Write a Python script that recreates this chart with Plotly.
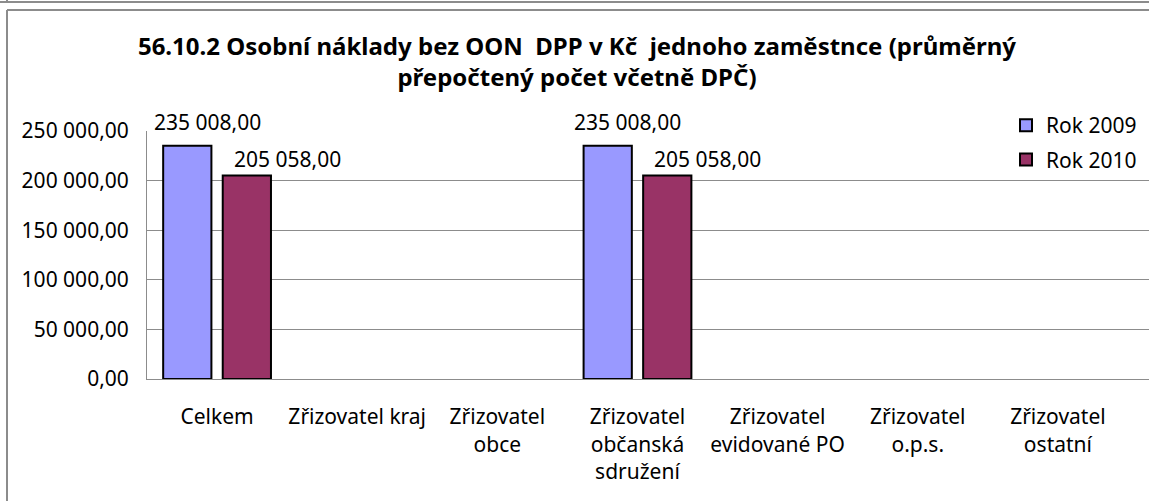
import plotly.graph_objects as go

categories = ["Celkem", "Zřizovatel kraj", "Zřizovatel<br>obce", "Zřizovatel<br>občanská<br>sdružení",
              "Zřizovatel<br>evidované PO", "Zřizovatel<br>o.p.s.", "Zřizovatel<br>ostatní"]
rok_2009 = [235008.00, None, None, 235008.00, None, None, None]
rok_2010 = [205058.00, None, None, 205058.00, None, None, None]
series_names = ["Rok 2009", "Rok 2010"]
y_ticks = [0, 50000, 100000, 150000, 200000, 250000]
title_text = "56.10.2 Osobní náklady bez OON  DPP v Kč  jednoho zaměstnce (průměrný<br>přepočtený počet včetně DPČ)"

W, H = 1149, 501
L, T, B = 147, 131, 379
FONT = "Noto Sans"
FS = 21

def fmt(v):
    s = f"{v:,.2f}"
    return s.replace(",", " ").replace(".", ",")

fig = go.Figure()
fig.add_trace(go.Bar(x=categories, y=rok_2009, name=series_names[0], legendgroup="a",
                     marker=dict(color="#9999FF", line=dict(color="#000000", width=2))))
fig.add_trace(go.Bar(x=categories, y=rok_2010, name=series_names[1], legendgroup="b",
                     marker=dict(color="#993366", line=dict(color="#000000", width=2))))

ann = []
for vals, xs, ys in ((rok_2009, -10, 24), (rok_2010, 70, 17)):
    for c, v in zip(categories, vals):
        if v is not None:
            ann.append(dict(x=c, y=v, text=fmt(v), showarrow=False, xref="x", yref="y",
                            xshift=xs, yshift=ys, yanchor="middle",
                            font=dict(family=FONT, size=FS, color="#000")))

def px(x):
    return (x - L) / (W - L)

def py(y):
    return (B - y) / (B - T)

line = dict(color="#8c8c8c", width=2)
shapes = [
    dict(type="line", xref="paper", yref="paper", x0=px(0), x1=px(W), y0=py(2), y1=py(2), line=line),
    dict(type="line", xref="paper", yref="paper", x0=px(7), x1=px(7), y0=py(0), y1=py(2), line=line),
    dict(type="line", xref="paper", yref="paper", x0=px(7), x1=px(W), y0=py(10), y1=py(10), line=line),
    dict(type="line", xref="paper", yref="paper", x0=px(7), x1=px(7), y0=py(10), y1=py(H), line=line),
]

fig.update_layout(
    width=W, height=H,
    margin=dict(l=L, r=0, t=T, b=H - B, pad=0, autoexpand=False),
    paper_bgcolor="white", plot_bgcolor="white",
    separators=", ",
    barmode="group", bargap=0.15, bargroupgap=0.19,
    font=dict(family=FONT, size=FS, color="#000"),
    title=dict(text=title_text, x=577 / W, xanchor="center", y=1 - 55 / H, yanchor="middle",
               yref="container", font=dict(family=FONT, size=24, color="#000", weight="bold")),
    xaxis=dict(range=[-0.5, 6.65], showgrid=False, showline=True, linecolor="#8c8c8c", linewidth=1,
               ticks="", ticklabelstandoff=19, tickfont=dict(family=FONT, size=FS)),
    yaxis=dict(range=[0, 250000], tickvals=y_ticks, tickformat=",.2f", showgrid=True,
               gridcolor="#8c8c8c", gridwidth=1, showline=True, linecolor="#8c8c8c", linewidth=1,
               ticks="", ticklabelstandoff=13, zeroline=False, tickfont=dict(family=FONT, size=FS)),
    legend=dict(x=px(1006), y=py(105), xanchor="left", yanchor="top", bgcolor="white",
                tracegroupgap=4, traceorder="grouped", font=dict(family=FONT, size=FS)),
    annotations=ann, shapes=shapes,
)
fig.write_html("out.html", config={"displayModeBar": False},
               post_script=("document.documentElement.style.overflow='hidden';"
                            "document.body.style.margin='0';document.body.style.overflow='hidden';"))
